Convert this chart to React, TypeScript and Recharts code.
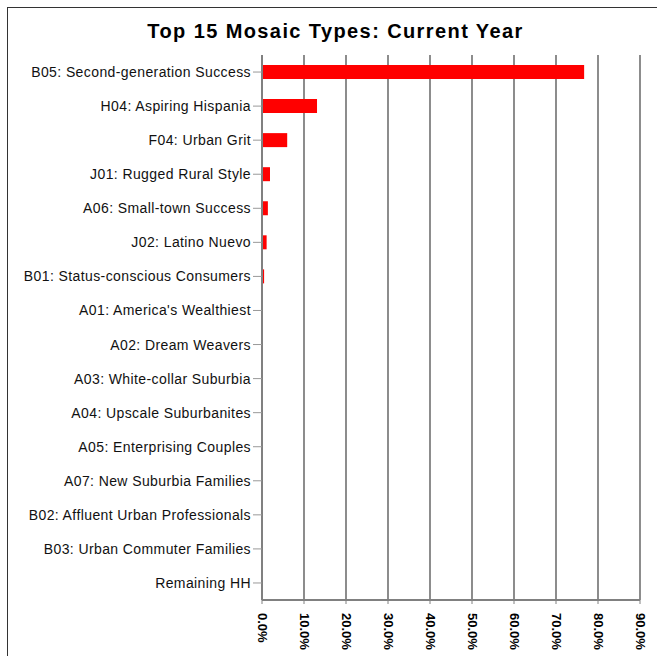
import { Bar, BarChart, CartesianGrid, XAxis, YAxis } from "recharts";

const categories = [
  "B05: Second-generation Success",
  "H04: Aspiring Hispania",
  "F04: Urban Grit",
  "J01: Rugged Rural Style",
  "A06: Small-town Success",
  "J02: Latino Nuevo",
  "B01: Status-conscious Consumers",
  "A01: America's Wealthiest",
  "A02: Dream Weavers",
  "A03: White-collar Suburbia",
  "A04: Upscale Suburbanites",
  "A05: Enterprising Couples",
  "A07: New Suburbia Families",
  "B02: Affluent Urban Professionals",
  "B03: Urban Commuter Families",
  "Remaining HH",
];
const shares = [0.767, 0.131, 0.06, 0.019, 0.014, 0.011, 0.005, 0, 0, 0, 0, 0, 0, 0, 0, 0];
const xTicks = [0, 0.1, 0.2, 0.3, 0.4, 0.5, 0.6, 0.7, 0.8, 0.9];

const data = categories.map((name, i) => ({ name, value: shares[i] }));

const font = "'Liberation Sans', Arial, sans-serif";

function RotatedTick(props: any) {
  const { x, y, payload } = props;
  return (
    <text
      x={0}
      y={0}
      transform={`translate(${x},${y + 7}) rotate(90)`}
      textAnchor="start"
      dominantBaseline="central"
      fontFamily={font}
      fontWeight="bold"
      fontSize={13}
      fill="#000"
    >
      {(payload.value * 100).toFixed(1) + "%"}
    </text>
  );
}

export default function App() {
  return (
    <div style={{ position: "relative", width: 657, height: 656, overflow: "hidden", background: "#fff" }}>
      <style>{"html,body{margin:0;padding:0;overflow:hidden}"}</style>
      <div
        style={{
          position: "absolute",
          left: 7,
          top: 7,
          width: 700,
          height: 700,
          border: "1.5px solid #333",
          boxSizing: "border-box",
        }}
      />
      <div
        style={{
          position: "absolute",
          left: 0,
          top: 20,
          width: 671,
          textAlign: "center",
          fontFamily: font,
          fontWeight: "bold",
          fontSize: 20,
          letterSpacing: 1.4,
          color: "#000",
        }}
      >
        Top 15 Mosaic Types: Current Year
      </div>
      <div style={{ position: "absolute", left: 0, top: 0 }}>
        <BarChart
          width={657}
          height={656}
          data={data}
          layout="vertical"
          margin={{ top: 55, right: 17, bottom: 0, left: 7 }}
          barCategoryGap={10}
        >
          <CartesianGrid horizontal={false} stroke="#404040" strokeWidth={1.2} />
          <XAxis
            xAxisId="top"
            orientation="top"
            type="number"
            domain={[0, 0.9]}
            height={0}
            tick={false}
            tickLine={false}
            axisLine={{ stroke: "#808080", strokeWidth: 2 }}
          />
          <XAxis
            type="number"
            domain={[0, 0.9]}
            ticks={xTicks}
            interval={0}
            height={56}
            tick={<RotatedTick />}
            tickSize={4}
            tickLine={{ stroke: "#808080" }}
            axisLine={{ stroke: "#808080", strokeWidth: 2 }}
          />
          <YAxis
            type="category"
            dataKey="name"
            width={255}
            interval={0}
            tickSize={9}
            tickLine={{ stroke: "#999" }}
            axisLine={{ stroke: "#808080", strokeWidth: 2 }}
            tick={{ fontFamily: font, fontSize: 14, letterSpacing: 0.4, fill: "#111" }}
          />
          <Bar dataKey="value" fill="#ff0000" barSize={14} isAnimationActive={false} />
        </BarChart>
      </div>
    </div>
  );
}
